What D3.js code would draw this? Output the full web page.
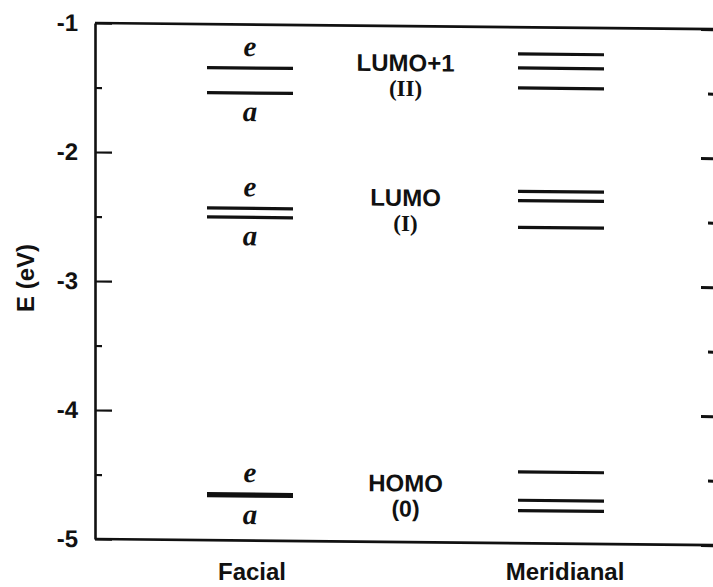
<!DOCTYPE html>
<html>
<head>
<meta charset="utf-8">
<script src="https://cdn.jsdelivr.net/npm/d3@7"></script>
<style>
  html, body { margin: 0; padding: 0; background: #fff; }
  svg { display: block; }
  text { fill: #111; }
</style>
</head>
<body>
<svg id="chart" width="713" height="587"></svg>
<script>
// ---- data ----
const categories = ["Facial", "Meridianal"];
const orbitalNames = ["LUMO+1", "LUMO", "HOMO"];
const orbitalIndex = ["(II)", "(I)", "(0)"];
const facialE = [-1.337, -2.425, -4.640];   // e levels (facial)
const facialA = [-1.531, -2.495, -4.655];   // a levels (facial)
const meridional = [
  [-1.207, -1.316, -1.471],
  [-2.272, -2.344, -2.551],
  [-4.447, -4.667, -4.747]
];
const yMajorTicks = [-5, -4, -3, -2, -1];
const yMinorTicks = [-4.5, -3.5, -2.5, -1.5];
const yDomain = [-5, -1];

// ---- layout ----
const svg = d3.select("#chart");
const mLeft = 95, mRight = 716, mTop = 23, mBottom = 539;
const ink = "#111";

const y = d3.scaleLinear().domain(yDomain).range([mBottom, mTop]);
const x = d3.scaleLinear().domain([0, 2]).range([250, 561]); // 0 facial, 1 labels, 2 meridional
const halfW = 43;

// slight shear, like the scanned original
const g = svg.append("g")
  .attr("transform", `translate(${mLeft},0) skewY(0.57) translate(${-mLeft},0)`);

// frame lines top/bottom
[yDomain[0], yDomain[1]].forEach(v => {
  g.append("line")
    .attr("x1", mLeft).attr("x2", mRight)
    .attr("y1", y(v)).attr("y2", y(v))
    .attr("stroke", ink).attr("stroke-width", 2.6);
});

// left axis
const leftAxis = g.append("g").attr("transform", `translate(${mLeft},0)`)
  .call(d3.axisLeft(y).tickValues(yMajorTicks).tickSizeInner(-17).tickSizeOuter(0).tickPadding(17)
        .tickFormat(d3.format("d")));
leftAxis.select(".domain").attr("stroke", ink).attr("stroke-width", 2.6);
leftAxis.selectAll(".tick line").attr("stroke", ink).attr("stroke-width", 2.2);
leftAxis.selectAll(".tick text")
  .attr("font-family", "'Liberation Sans', Arial, sans-serif")
  .attr("font-weight", "bold").attr("font-size", 24).attr("fill", ink)
  .text(d => "-" + Math.abs(d));

const leftMinor = g.append("g").attr("transform", `translate(${mLeft},0)`)
  .call(d3.axisLeft(y).tickValues(yMinorTicks).tickSizeInner(-7).tickSizeOuter(0).tickFormat(""));
leftMinor.select(".domain").remove();
leftMinor.selectAll(".tick line").attr("stroke", ink).attr("stroke-width", 2.2);

// right axis
const rightAxis = g.append("g").attr("transform", `translate(${mRight},0)`)
  .call(d3.axisRight(y).tickValues(yMajorTicks).tickSizeInner(-15).tickSizeOuter(0).tickFormat(""));
rightAxis.select(".domain").attr("stroke", ink).attr("stroke-width", 2.6);
rightAxis.selectAll(".tick line").attr("stroke", ink).attr("stroke-width", 3);
const rightMinor = g.append("g").attr("transform", `translate(${mRight},0)`)
  .call(d3.axisRight(y).tickValues(yMinorTicks).tickSizeInner(-8).tickSizeOuter(0).tickFormat(""));
rightMinor.select(".domain").remove();
rightMinor.selectAll(".tick line").attr("stroke", ink).attr("stroke-width", 3);

// levels
const levelW = 3.2;
function levelLine(col, v) {
  g.append("line")
    .attr("x1", x(col) - halfW).attr("x2", x(col) + halfW)
    .attr("y1", y(v)).attr("y2", y(v))
    .attr("stroke", ink).attr("stroke-width", levelW);
}
facialE.forEach(v => levelLine(0, v));
facialA.forEach(v => levelLine(0, v));
meridional.forEach(grp => grp.forEach(v => levelLine(2, v)));

// e / a symmetry labels
const symFont = "'Liberation Serif', 'Times New Roman', serif";
facialE.forEach(v => {
  g.append("text").attr("x", x(0)).attr("y", y(v) - 12)
    .attr("text-anchor", "middle")
    .attr("font-family", symFont).attr("font-style", "italic").attr("font-weight", "bold")
    .attr("font-size", 29).text("e");
});
facialA.forEach(v => {
  g.append("text").attr("x", x(0)).attr("y", y(v) + 28)
    .attr("text-anchor", "middle")
    .attr("font-family", symFont).attr("font-style", "italic").attr("font-weight", "bold")
    .attr("font-size", 29).text("a");
});

// orbital labels in the middle
orbitalNames.forEach((name, i) => {
  const all = [facialE[i], facialA[i]].concat(meridional[i]);
  const yc = y(d3.mean(all));
  g.append("text").attr("x", x(1)).attr("y", yc - 3)
    .attr("text-anchor", "middle")
    .attr("font-family", "'Liberation Sans', Arial, sans-serif")
    .attr("font-weight", "bold").attr("font-size", 24).text(name);
  const roman = orbitalIndex[i] !== "(0)";
  g.append("text").attr("x", x(1)).attr("y", yc + 22)
    .attr("text-anchor", "middle")
    .attr("font-family", roman ? symFont : "'Liberation Sans Narrow', 'Liberation Sans', sans-serif")
    .attr("font-weight", "bold").attr("font-size", 23).text(orbitalIndex[i]);
});

// category labels
const catX = [x(0) + 2, x(2) + 4];
categories.forEach((c, i) => {
  svg.append("text").attr("x", catX[i]).attr("y", 580)
    .attr("text-anchor", "middle")
    .attr("font-family", "'Liberation Sans', Arial, sans-serif")
    .attr("font-weight", "bold").attr("font-size", 24).text(c);
});

// y axis title
svg.append("text")
  .attr("transform", "translate(34,278) rotate(-90)")
  .attr("text-anchor", "middle")
  .attr("font-family", "'Liberation Sans', Arial, sans-serif")
  .attr("font-weight", "bold").attr("font-size", 24).text("E (eV)");
</script>
</body>
</html>
